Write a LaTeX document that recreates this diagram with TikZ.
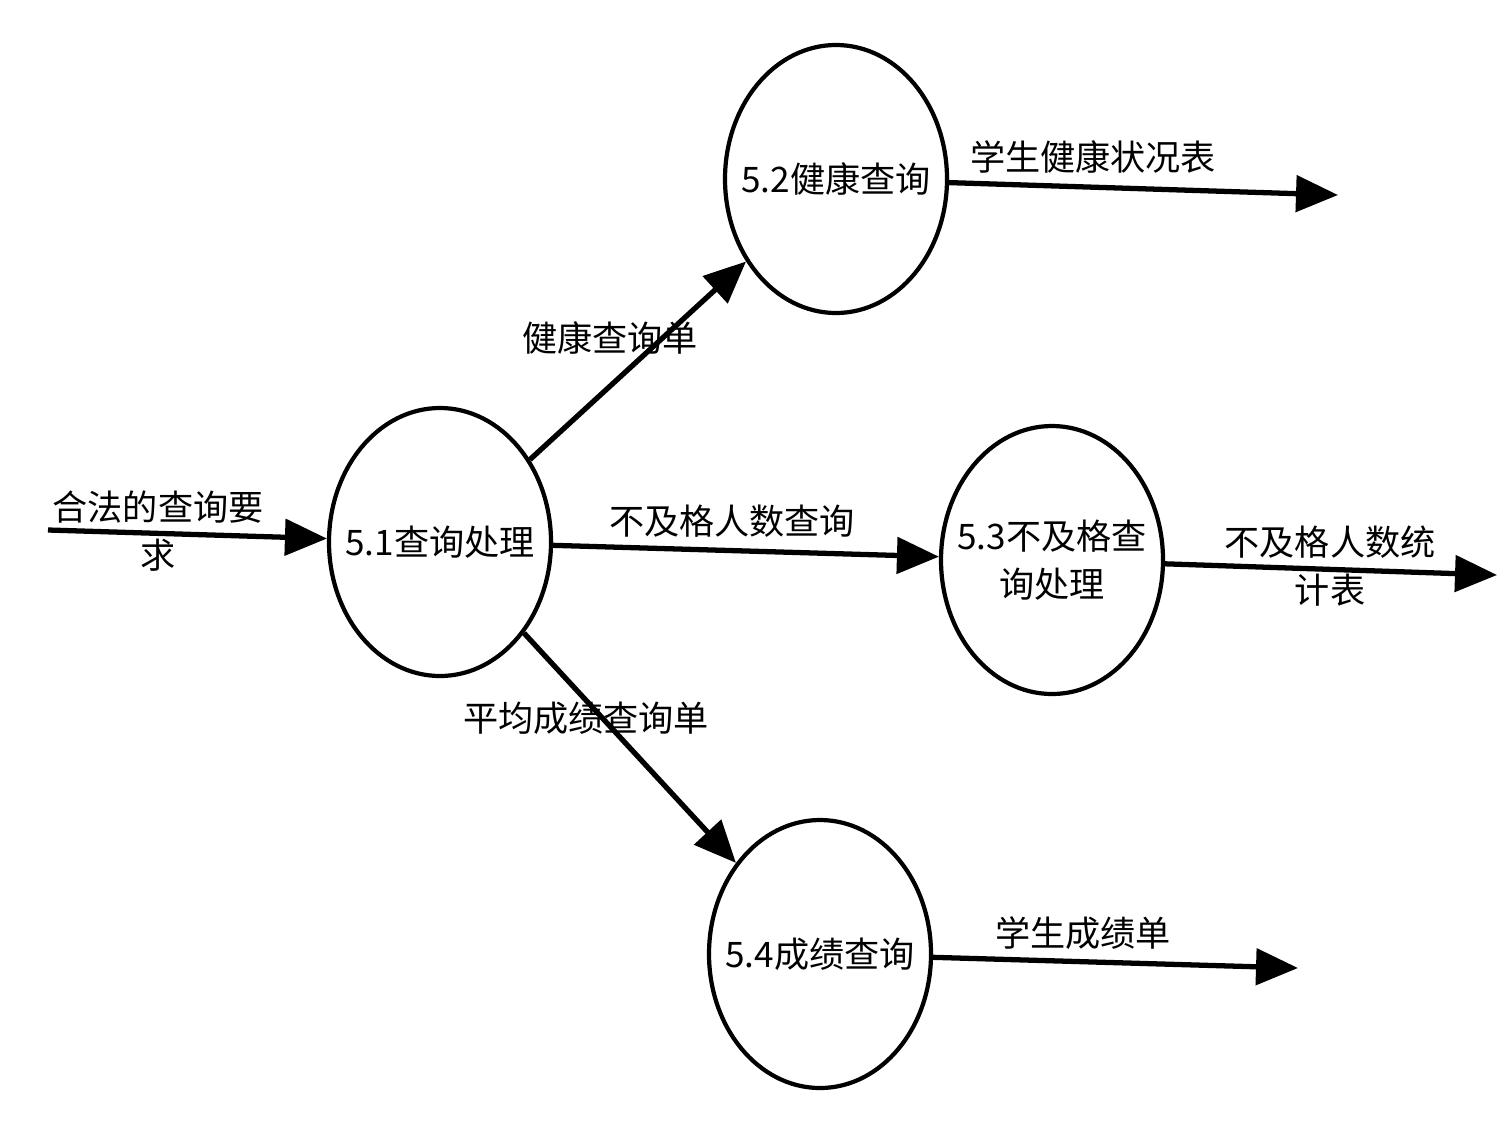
\documentclass[tikz,border=0pt]{standalone}
\usepackage{fontspec}
\setmainfont{Noto Sans CJK SC}
\usetikzlibrary{shapes.geometric,arrows.meta}

\begin{document}
\begin{tikzpicture}[font=\fontsize{10pt}{13.8pt}\selectfont,
 p/.style={draw,ellipse,line width=1.2pt,minimum width=2.22cm,minimum height=2.68cm,inner xsep=-0.2cm,inner ysep=0pt,align=center},
 flow/.style={line width=1.5pt,-{Triangle[length=0.42cm,width=0.36cm]}},
 lbl/.style={align=center,inner sep=1pt}]
 \useasboundingbox (0,0) rectangle (15.02,-11.23);
 % processes
 \node[p](n51) at (4.40,-5.42){5.1查询处理};
 \node[p](n52) at (8.36,-1.79){5.2健康查询};
 \node[p](n53) at (10.52,-5.60){5.3不及格查\\询处理};
 \node[p](n54) at (8.20,-9.54){5.4成绩查询};
 % free ends
 \coordinate (in) at (0.48,-5.30);
 \coordinate (o52) at (13.38,-1.95);
 \coordinate (o53) at (14.97,-5.75);
 \coordinate (o54) at (12.98,-9.68);
 % flows
 \draw[flow](in)--(n51);
 \draw[flow](n51)--(n52);
 \draw[flow](n51)--(n53);
 \draw[flow](n51)--(n54);
 \draw[flow](n52)--(o52);
 \draw[flow](n53)--(o53);
 \draw[flow](n54)--(o54);
 % flow names
 \node[lbl](l0) at (1.58,-5.31){合法的查询要\\求};
 \node[lbl](l1) at (6.10,-3.38){健康查询单};
 \node[lbl](l2) at (7.32,-5.21){不及格人数查询};
 \node[lbl](l3) at (5.86,-7.18){平均成绩查询单};
 \node[lbl](l4) at (10.93,-1.57){学生健康状况表};
 \node[lbl](l5) at (13.30,-5.66){不及格人数统\\计表};
 \node[lbl](l6) at (10.83,-9.33){学生成绩单};
\end{tikzpicture}
\end{document}
